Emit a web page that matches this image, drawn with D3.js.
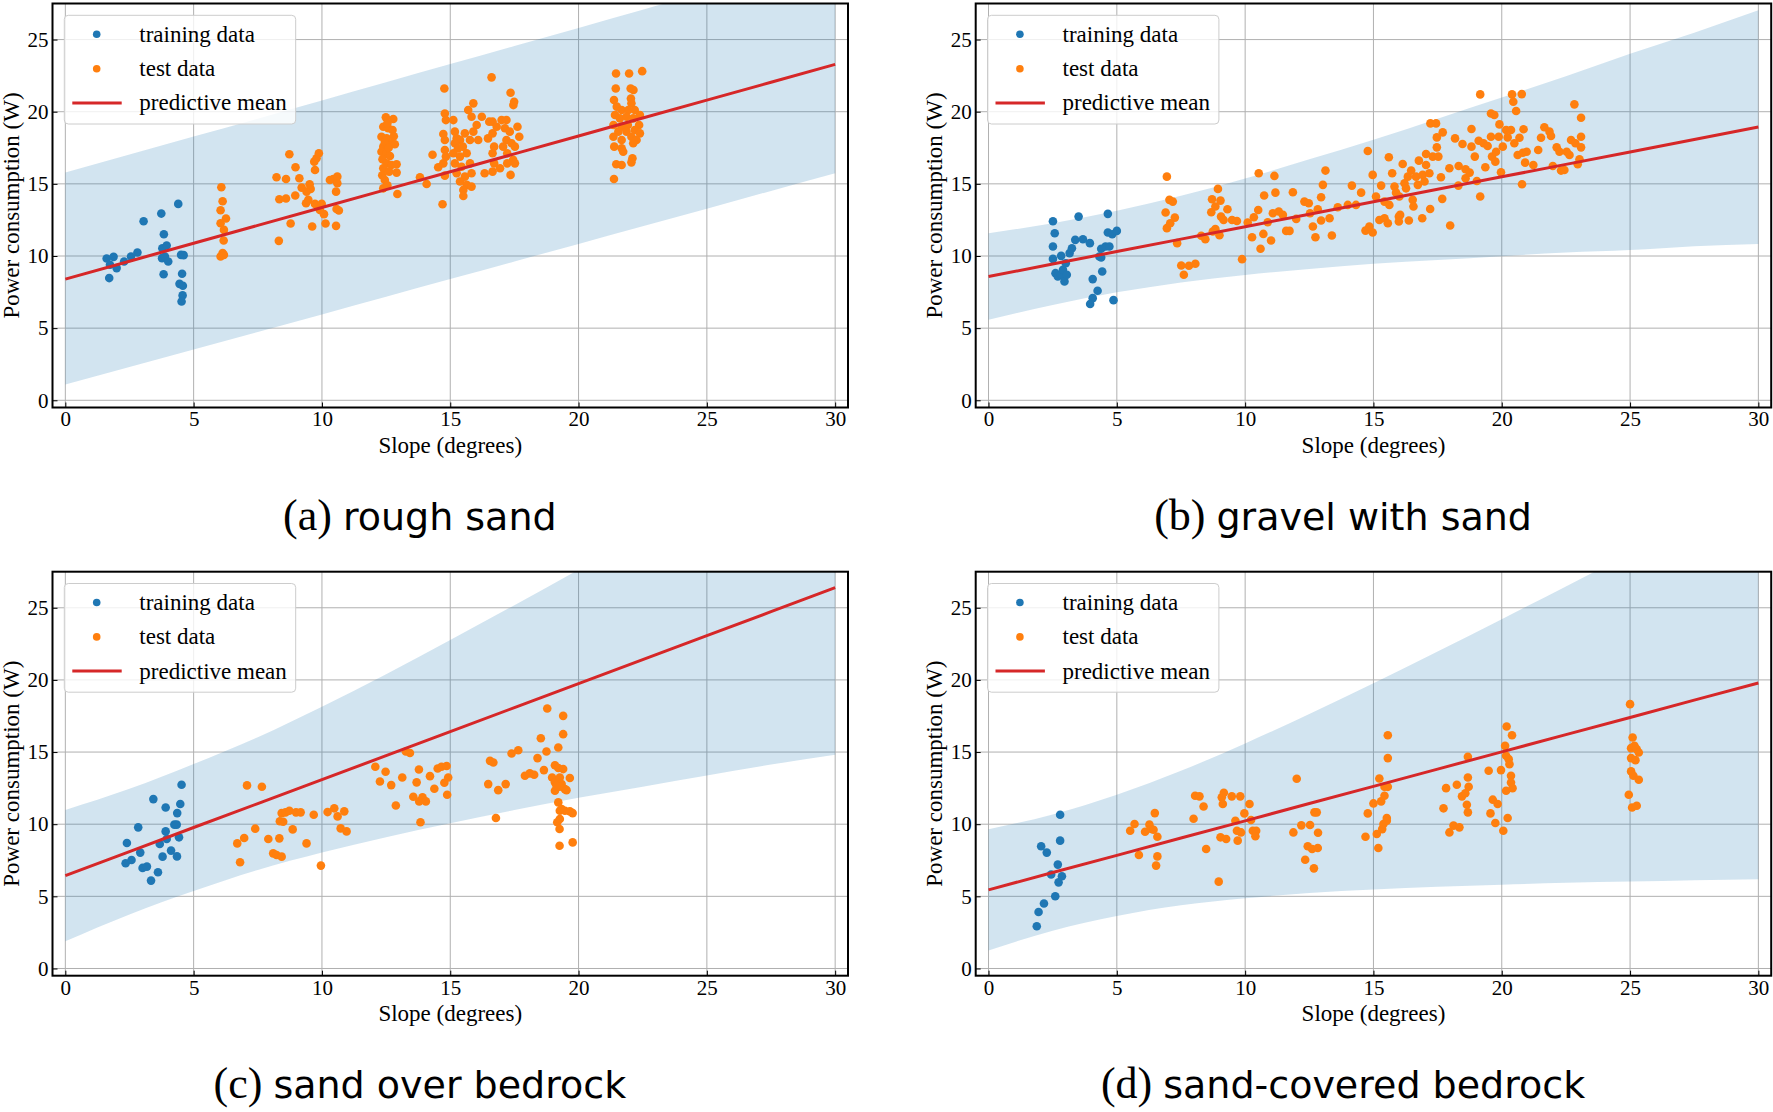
<!DOCTYPE html>
<html><head><meta charset="utf-8">
<script src="https://cdn.jsdelivr.net/npm/d3@7"></script>
<style>body{margin:0;background:#fff}</style>
</head><body><svg id="chart" width="1773" height="1112"></svg>
<script>
// ---------- DATA ----------
const xTicks = [0, 5, 10, 15, 20, 25, 30];
const yTicks = [0, 5, 10, 15, 20, 25];
const bandX = [0, 2.5, 5, 7.5, 10, 12.5, 15, 17.5, 20, 22.5, 25, 27.5, 30];
const legendLabels = ["training data", "test data", "predictive mean"];
const panelTags = ["(a)", "(b)", "(c)", "(d)"];
const panelNames = ["rough sand", "gravel with sand", "sand over bedrock", "sand-covered bedrock"];

// (a) rough sand
const aMean  = [8.40, 9.64, 10.88, 12.12, 13.36, 14.60, 15.84, 17.08, 18.32, 19.56, 20.80, 22.04, 23.28];
const aLower = [1.09, 2.30, 3.52, 4.74, 5.95, 7.17, 8.40, 9.62, 10.84, 12.06, 13.28, 14.51, 15.74];
const aUpper = [15.78, 17.03, 18.28, 19.52, 20.78, 22.04, 23.30, 24.55, 25.81, 27.07, 28.33, 29.59, 30.82];
const aTrain = [[1.61,9.83],[1.88,9.94],[1.74,9.39],[2.0,9.16],[1.71,8.47],[2.29,9.62],[2.56,9.97],[2.81,10.24],[3.05,12.41],[3.74,12.94],[3.84,11.51],[3.78,10.54],[3.95,10.73],[3.77,9.85],[3.88,9.97],[4.01,9.62],[3.83,8.74],[4.40,13.61],[4.51,10.08],[4.61,10.06],[4.55,8.77],[4.45,8.07],[4.58,7.94],[4.57,7.27],[4.53,6.85]];
const aTest = [
 [6.08,14.76],[6.13,13.79],[6.05,13.17],[6.05,12.27],[6.26,12.60],[6.18,11.81],[6.17,11.07],[6.13,10.20],[6.05,9.97],[6.18,10.08],
 [8.23,15.46],[8.34,13.93],[8.32,11.05],[8.60,15.34],[8.60,13.98],[8.73,17.05],[8.78,12.25],[8.97,16.15],[8.96,14.19],[9.12,15.39],[9.21,14.74],[9.38,13.66],[9.47,13.89],[9.52,14.97],[9.56,14.65],[9.40,14.46],[9.62,12.04],[9.70,16.54],[9.73,15.96],[9.79,16.77],[9.88,17.12],[9.73,13.61],[9.92,13.19],[9.99,13.61],[10.08,12.90],[10.14,12.25],[10.31,15.27],[10.44,15.34],[10.60,15.50],[10.60,15.04],[10.55,14.46],[10.57,13.26],[10.66,13.15],[10.55,12.09],
 [12.49,19.61],[12.78,19.49],[12.39,18.96],[12.58,18.85],[12.75,18.73],[12.32,18.27],[12.52,18.15],[12.39,17.58],[12.71,17.81],[12.84,17.74],[12.32,17.23],[12.52,17.12],[12.65,16.93],[12.36,16.70],[12.52,16.42],[12.71,16.31],[12.91,16.36],[12.39,16.08],[12.62,15.85],[12.91,15.78],[12.45,15.27],[12.39,14.69],[12.94,14.30],[12.55,19.2],[12.45,17.9],[12.6,17.5],[12.8,18.3],[12.35,15.6],[12.55,14.9],
 [13.82,15.46],[14.08,14.99],[14.31,17.02],[14.70,13.59],[14.53,16.15],[14.77,21.61],[14.79,19.88],[14.83,19.42],[14.73,18.45],[14.79,18.04],[14.79,17.35],[14.83,16.89],[14.73,16.42],[14.79,15.57],
 [15.12,19.42],[15.18,18.62],[15.25,18.15],[15.38,18.04],[15.18,17.81],[15.30,17.46],[15.49,17.58],[15.12,17.12],[15.38,16.89],[15.64,17.12],[15.18,16.42],[15.44,16.19],[15.77,16.42],[15.25,15.73],[15.57,15.50],[15.83,15.73],[15.38,15.16],[15.64,14.93],[15.83,14.81],[15.51,14.58],[15.51,14.16],[15.70,20.12],[15.90,20.58],[15.83,19.65],[16.03,19.08],[16.23,19.65],[15.90,18.62],[16.09,18.04],[15.77,18.04],[15.57,18.50],[16.61,22.38],[16.34,15.73],[16.52,19.31],[16.65,19.31],[16.47,18.15],[16.65,18.50],[16.71,17.58],[16.65,17.12],[16.71,16.42],[16.65,15.85],[16.94,16.08],[17.00,19.42],[17.19,19.42],[17.35,21.31],[17.46,20.46],[17.49,20.69],[17.13,18.85],[17.32,18.62],[17.62,18.96],[17.69,18.27],[17.19,18.04],[17.39,17.81],[17.52,17.58],[17.22,17.12],[17.45,16.66],[17.22,16.42],[17.52,16.42],[17.35,15.62],[17.06,17.58],[16.81,18.96],
 [21.46,22.65],[21.97,22.65],[22.48,22.81],[21.45,21.61],[22.03,21.61],[22.14,21.50],[21.38,20.81],[22.04,20.92],[22.06,20.58],[21.49,20.35],[21.68,20.12],[21.94,20.12],[22.19,20.12],[22.39,19.77],[21.42,19.77],[21.61,19.54],[21.87,19.65],[22.13,19.54],[21.36,19.08],[21.68,18.96],[21.92,19.08],[22.36,19.08],[21.55,18.62],[21.87,18.62],[22.19,18.73],[22.39,18.50],[21.36,18.27],[22.06,18.27],[22.26,18.04],[21.68,18.04],[21.39,17.58],[21.68,17.46],[22.13,17.81],[21.74,17.23],[22.10,16.77],[22.06,16.49],[21.47,16.36],[21.68,16.31],[21.38,15.34]
];

// (b) gravel with sand
const bMean  = [8.58, 9.44, 10.31, 11.17, 12.03, 12.90, 13.76, 14.62, 15.49, 16.35, 17.21, 18.08, 18.94];
const bLower = [5.58, 6.61, 7.48, 8.17, 8.69, 9.10, 9.46, 9.72, 9.99, 10.25, 10.41, 10.68, 10.84];
const bUpper = [11.58, 12.27, 13.14, 14.17, 15.37, 16.70, 18.06, 19.52, 20.99, 22.45, 24.01, 25.48, 27.04];
const bTrain = [[2.51,12.41],[2.58,11.58],[2.51,10.66],[2.51,9.80],[2.83,10.01],[2.61,8.81],[2.70,8.58],[2.83,8.70],[2.90,9.04],[2.96,8.24],[3.05,8.70],[3.01,9.50],[3.16,10.20],[3.25,10.54],[3.38,11.12],[3.51,12.73],[3.68,11.16],[3.95,10.89],[4.06,8.40],[4.06,7.08],[3.96,6.67],[4.25,7.59],[4.39,10.50],[4.43,8.93],[4.32,9.97],[4.39,9.90],[4.56,10.66],[4.65,12.92],[4.65,11.63],[4.71,10.66],[4.82,11.51],[5.0,11.74],[4.87,6.94]];
const bTest = [
 [6.95,15.50],[6.90,13.01],[7.05,13.89],[7.18,13.77],[6.95,11.93],[7.08,12.27],[7.26,12.66],[7.35,10.89],[7.51,9.34],[7.61,8.70],[7.81,9.32],[8.06,9.46],[8.29,11.40],[8.45,11.16],[8.68,13.03],[8.71,13.93],[8.94,14.65],[8.84,13.43],[9.04,13.84],[8.74,11.70],[8.84,11.86],[9.0,11.44],[9.06,12.73],[9.16,12.50],[9.31,13.24],[9.49,12.50],[9.68,12.43],[9.88,9.78],[10.10,12.32],[10.27,11.30],[10.34,12.69],[10.51,13.19],[10.53,15.73],[10.60,10.50],[10.71,11.53],[10.74,14.19],[10.88,12.34],[11.01,11.07],[11.08,12.96],[11.14,15.55],[11.18,14.39],[11.31,13.08],[11.47,12.85],[11.60,11.74],[11.73,11.74],[11.86,14.42],[11.99,12.57],[12.31,13.77],[12.48,13.66],[12.53,12.96],[12.64,12.04],[12.74,11.30],[12.83,13.24],[12.96,14.07],[13.03,14.93],[12.96,12.46],[13.13,15.92],[13.29,12.62],[13.38,11.42],[13.61,13.38],[14.0,13.54],[14.16,14.88],[14.32,13.54],[14.52,14.39],
 [14.78,17.28],[14.69,11.76],[14.84,12.04],[14.97,11.63],[14.97,15.62],[15.10,14.12],[15.30,14.88],[15.23,12.50],[15.43,12.62],[15.56,12.27],[15.43,13.77],[15.62,13.54],[15.60,16.84],[15.73,15.73],[15.82,14.81],[15.88,14.39],[16.01,14.12],[15.99,12.73],[16.04,12.85],[15.99,12.39],[16.14,16.38],[16.21,15.04],[16.27,14.69],[16.34,15.50],[16.38,12.46],[16.47,15.92],[16.53,13.89],[16.56,13.43],[16.66,15.50],[16.73,14.93],[16.77,16.61],[16.90,12.62],[16.92,15.62],[16.99,15.16],[17.05,17.07],[17.05,16.31],[17.18,15.73],[17.21,13.26],[17.22,19.19],[17.44,19.19],[17.47,18.22],[17.47,17.53],[17.31,16.89],[17.53,16.89],[17.63,15.46],[17.70,18.57],[17.68,13.96],[17.99,12.11],[17.96,16.08],[18.18,18.15],[18.32,16.24],[18.31,14.88],[18.47,17.76],[18.59,16.01],[18.59,15.39],[18.75,15.78],[18.82,18.80],[18.82,17.58],[18.95,16.89],[19.03,15.20],[19.16,21.20],[19.16,14.12],[19.10,17.99],[19.29,17.81],[19.36,16.15],[19.45,17.62],[19.58,19.88],[19.71,19.77],[19.58,18.27],[19.62,16.89],[19.75,16.54],[19.78,17.23],[19.91,19.12],[19.88,18.27],[19.97,15.80],[20.04,17.58],[20.17,18.73],[20.23,18.22],[20.40,21.20],[20.45,20.69],[20.56,20.05],[20.36,18.73],[20.49,17.81],[20.69,18.20],[20.62,17.00],[20.78,21.22],[20.79,14.97],[20.82,17.16],[20.85,18.78],[20.91,16.47],[20.97,17.23],[21.23,16.31],[21.42,17.35],[21.53,18.20],[21.66,18.92],[21.86,18.62],[21.92,18.32],[21.99,16.24],[22.14,17.53],[22.25,17.23],[22.31,15.92],[22.44,15.96],[22.53,17.23],[22.70,18.04],[22.64,17.00],[22.83,20.51],[22.87,17.81],[22.96,16.36],[23.03,16.70],[23.09,19.58],[23.09,18.27],[23.09,17.53]
];

// (c) sand over bedrock
const cMean  = [6.44, 8.10, 9.77, 11.43, 13.09, 14.75, 16.42, 18.08, 19.74, 21.40, 23.07, 24.73, 26.39];
const cLower = [1.89, 3.75, 5.37, 6.83, 8.04, 9.10, 10.07, 10.98, 11.84, 12.60, 13.37, 14.13, 14.81];
const cUpper = [10.99, 12.45, 14.17, 16.03, 18.14, 20.40, 22.77, 25.18, 27.64, 30.20, 32.77, 35.33, 37.97];
const cTrain = [[2.40,8.70],[2.35,7.29],[2.58,7.52],[2.84,9.78],[2.92,8.03],[3.01,6.97],[3.18,7.06],[3.34,6.09],[3.43,11.74],[3.61,6.67],[3.68,8.63],[3.79,7.75],[3.91,11.16],[3.91,9.50],[3.95,8.97],[4.12,8.17],[4.25,9.97],[4.34,9.97],[4.36,10.77],[4.35,7.77],[4.43,9.09],[4.48,11.40],[4.53,12.73]];
const cTest = [
 [6.70,8.67],[6.81,7.36],[6.97,9.04],[7.08,12.69],[7.40,9.69],[7.66,12.60],[7.91,8.97],[8.10,7.98],[8.23,7.87],[8.43,7.75],[8.34,9.02],[8.36,10.20],[8.49,10.17],[8.43,10.77],[8.58,10.82],[8.73,10.93],[8.86,9.64],[8.99,10.82],[9.17,10.82],[9.40,8.67],[9.68,10.66],[9.96,7.13],[10.22,10.84],[10.48,11.10],[10.61,10.54],[10.87,10.89],[10.73,9.71],[10.96,9.50],
 [12.08,13.98],[12.26,12.96],[12.48,13.63],[12.70,12.71],[12.88,11.30],[13.13,13.24],[13.27,15.04],[13.43,14.93],[13.56,11.90],[13.69,12.90],[13.78,13.79],[13.79,11.58],[13.84,10.13],[13.92,11.86],[14.05,11.58],[14.21,13.33],[14.38,12.46],[14.51,13.86],[14.66,13.98],[14.86,14.03],[14.77,12.87],[14.88,12.04],[14.92,13.24],
 [16.48,12.78],[16.55,14.39],[16.68,14.28],[16.78,10.43],[16.87,12.36],[17.16,12.78],[17.39,14.90],[17.65,15.13],[17.91,13.36],[18.10,13.52],[18.27,13.43],[18.40,14.58],[18.53,15.96],[18.65,13.75],[18.75,15.04],[18.78,18.02],[19.08,14.09],[18.97,13.24],[19.08,12.90],[19.08,12.32],[19.21,15.32],[19.21,13.89],[19.27,13.24],[19.34,12.78],[19.40,17.51],[19.40,16.24],[19.40,13.82],[19.47,12.43],[19.26,12.60],[19.14,12.66],[19.53,12.36],[19.66,13.20],[19.21,11.51],[19.27,10.93],[19.34,11.05],[19.47,10.93],[19.66,10.89],[19.77,10.77],[19.17,10.13],[19.27,10.36],[19.26,9.67],[19.26,8.51],[19.77,8.74]
];

// (d) sand-covered bedrock
const dMean  = [5.45, 6.65, 7.84, 9.04, 10.23, 11.43, 12.62, 13.82, 15.01, 16.21, 17.40, 18.60, 19.79];
const dLower = [1.25, 2.62, 3.64, 4.38, 4.86, 5.23, 5.47, 5.67, 5.81, 5.94, 6.03, 6.12, 6.19];
const dUpper = [9.65, 10.68, 12.04, 13.70, 15.60, 17.63, 19.77, 21.97, 24.21, 26.48, 28.77, 31.08, 33.39];
const dTrain = [[1.88,2.93],[1.95,3.92],[2.16,4.50],[2.05,8.47],[2.27,8.03],[2.44,6.51],[2.60,5.01],[2.70,7.20],[2.73,5.97],[2.79,10.66],[2.79,8.86],[2.86,6.39]];
const dTest = [
 [5.52,9.55],[5.69,10.01],[5.86,7.87],[6.10,9.48],[6.27,9.97],[6.34,9.67],[6.43,9.62],[6.48,10.77],[6.53,7.13],[6.58,9.13],[6.58,7.77],
 [7.99,10.38],[8.05,11.97],[8.22,11.93],[8.38,11.23],[8.48,8.28],[8.97,6.02],[9.04,9.09],[9.09,11.86],[9.17,12.18],[9.13,11.40],[9.26,8.97],[9.48,11.93],[9.62,10.24],[9.68,9.55],[9.71,8.86],[9.81,11.93],[9.84,9.43],[9.97,10.75],[10.17,11.40],[10.23,10.29],[10.30,9.55],[10.43,9.55],[10.40,9.16],
 [11.88,9.43],[12.01,13.15],[12.19,9.92],[12.34,7.54],[12.44,8.47],[12.53,9.94],[12.61,8.28],[12.68,6.94],[12.70,10.82],[12.79,10.82],[12.84,9.41],[12.83,8.35],
 [14.69,9.13],[14.78,10.75],[15.0,11.44],[15.13,9.32],[15.19,8.35],[15.23,13.17],[15.30,11.58],[15.34,9.66],[15.39,10.01],[15.43,11.97],[15.43,12.59],[15.52,10.43],[15.56,14.58],[15.56,12.59],[15.56,16.17],[15.52,10.24],
 [17.96,9.43],[17.73,11.10],[17.83,12.50],[18.12,9.90],[18.25,12.73],[18.35,9.78],[18.45,11.93],[18.58,12.14],[18.64,11.35],[18.68,13.24],[18.68,14.67],[18.71,12.59],[18.68,10.82],
 [19.49,13.70],[19.56,10.75],[19.65,11.70],[19.75,10.08],[19.84,11.40],[19.97,13.75],[20.06,9.55],[20.13,15.43],[20.19,16.77],[20.23,10.43],[20.17,14.74],[20.27,14.51],[20.30,14.16],[20.40,16.17],[20.36,13.36],[20.36,12.89],[20.17,12.32],[20.42,12.50],
 [25.0,18.32],[25.10,16.01],[25.04,15.27],[25.17,15.43],[25.26,15.20],[25.34,14.97],[25.04,14.58],[25.21,14.44],[25.04,13.66],[25.13,13.36],[25.34,13.08],[24.95,12.04],[25.08,11.16],[25.26,11.28]
];

// ---------- DRAWING ----------
const BLUE = "#1f77b4", ORANGE = "#ff7f0e", RED = "#d62728";
const SERIF = "'Liberation Serif','DejaVu Serif',serif";
const SANS = "'DejaVu Sans',sans-serif";
const PW = 795.5, PH = 404;
const panels = [
  {left: 52.5,  top: 3.5,   train: aTrain, test: aTest, mean: aMean, lower: aLower, upper: aUpper},
  {left: 975.7, top: 3.5,   train: bTrain, test: bTest, mean: bMean, lower: bLower, upper: bUpper},
  {left: 52.5,  top: 571.7, train: cTrain, test: cTest, mean: cMean, lower: cLower, upper: cUpper},
  {left: 975.7, top: 571.7, train: dTrain, test: dTest, mean: dMean, lower: dLower, upper: dUpper}
];

const svg = d3.select("#chart");
const defs = svg.append("defs");
svg.append("rect").attr("width", 1773).attr("height", 1112).attr("fill", "#fff");

panels.forEach((p, i) => {
  const x = d3.scaleLinear().domain([-0.5, 30.5]).range([0, PW]);
  const y = d3.scaleLinear().domain([-0.5, 27.5]).range([PH, 0]);
  defs.append("clipPath").attr("id", "clip" + i)
    .append("rect").attr("width", PW).attr("height", PH);

  const g = svg.append("g").attr("transform", `translate(${p.left},${p.top})`);

  // grid
  const grid = g.append("g");
  grid.selectAll("line.vx").data(xTicks).join("line")
    .attr("x1", d => x(d)).attr("x2", d => x(d)).attr("y1", 0).attr("y2", PH)
    .attr("stroke", "#b0b0b0").attr("stroke-width", 1);
  grid.selectAll("line.hy").data(yTicks).join("line")
    .attr("x1", 0).attr("x2", PW).attr("y1", d => y(d)).attr("y2", d => y(d))
    .attr("stroke", "#b0b0b0").attr("stroke-width", 1);

  const plot = g.append("g").attr("clip-path", `url(#clip${i})`);
  const bandData = bandX.map((bx, k) => ({x: bx, lo: p.lower[k], hi: p.upper[k], m: p.mean[k]}));

  plot.append("path").datum(bandData)
    .attr("d", d3.area().x(d => x(d.x)).y0(d => y(d.lo)).y1(d => y(d.hi)).curve(d3.curveMonotoneX))
    .attr("fill", BLUE).attr("fill-opacity", 0.2);

  plot.append("g").selectAll("circle").data(p.train).join("circle")
    .attr("cx", d => x(d[0])).attr("cy", d => y(d[1])).attr("r", 4.3).attr("fill", BLUE);
  plot.append("g").selectAll("circle").data(p.test).join("circle")
    .attr("cx", d => x(d[0])).attr("cy", d => y(d[1])).attr("r", 4.3).attr("fill", ORANGE);

  plot.append("path").datum(bandData)
    .attr("d", d3.line().x(d => x(d.x)).y(d => y(d.m)))
    .attr("fill", "none").attr("stroke", RED).attr("stroke-width", 3);

  // axes
  const xa = g.append("g").attr("transform", `translate(0,${PH})`)
    .call(d3.axisBottom(x).tickValues(xTicks).tickSize(-5).tickPadding(4).tickFormat(d3.format("d")));
  const ya = g.append("g")
    .call(d3.axisLeft(y).tickValues(yTicks).tickSize(-5).tickPadding(4).tickFormat(d3.format("d")));
  [xa, ya].forEach(a => {
    a.select(".domain").remove();
    a.selectAll("line").attr("stroke", "#000").attr("stroke-width", 1);
    a.selectAll("text").attr("font-family", SERIF).attr("font-size", 21).attr("fill", "#000");
  });

  // frame
  g.append("rect").attr("width", PW).attr("height", PH)
    .attr("fill", "none").attr("stroke", "#000").attr("stroke-width", 2);

  // axis labels
  g.append("text").attr("x", PW / 2).attr("y", PH + 45.5).attr("text-anchor", "middle")
    .attr("font-family", SERIF).attr("font-size", 23).text("Slope (degrees)");
  g.append("text").attr("transform", `translate(-34,${PH / 2}) rotate(-90)`).attr("text-anchor", "middle")
    .attr("font-family", SERIF).attr("font-size", 23).text("Power consumption (W)");

  // legend
  const lg = g.append("g");
  lg.append("rect").attr("x", 11.8).attr("y", 11.8).attr("width", 231.4).attr("height", 108.7).attr("rx", 4)
    .attr("fill", "#fff").attr("fill-opacity", 0.8).attr("stroke", "#cccccc").attr("stroke-width", 1);
  const rows = [30.8, 65.2, 99.4];
  lg.append("circle").attr("cx", 44.2).attr("cy", rows[0]).attr("r", 3.8).attr("fill", BLUE);
  lg.append("circle").attr("cx", 44.2).attr("cy", rows[1]).attr("r", 3.8).attr("fill", ORANGE);
  lg.append("line").attr("x1", 19.8).attr("x2", 69.2).attr("y1", rows[2]).attr("y2", rows[2])
    .attr("stroke", RED).attr("stroke-width", 3);
  lg.selectAll("text").data(legendLabels).join("text")
    .attr("x", 86.8).attr("y", (d, k) => rows[k] + 7.5)
    .attr("font-family", SERIF).attr("font-size", 23).text(d => d);

  // sub-caption
  const t = svg.append("text").attr("x", p.left + PW / 2 - 30.4).attr("y", p.top + 526.2)
    .attr("text-anchor", "middle").attr("fill", "#000");
  t.append("tspan").attr("font-family", SERIF).attr("font-size", 44).text(panelTags[i] + " ");
  t.append("tspan").attr("font-family", SANS).attr("font-size", 38).text(panelNames[i]);
});
</script>
</body></html>
